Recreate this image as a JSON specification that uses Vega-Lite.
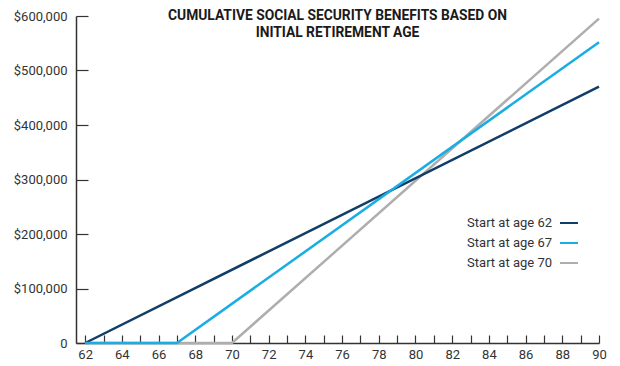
{
  "$schema": "https://vega.github.io/schema/vega-lite/v6.json",
  "width": 523,
  "height": 327,
  "autosize": {"type": "none"},
  "padding": {"left": 76, "top": 16, "right": 21, "bottom": 23},
  "background": "white",
  "config": {
    "view": {"stroke": null},
    "font": "Roboto",
    "axis": {"grid": false, "domainColor": "#333333", "domainWidth": 1.5, "tickColor": "#333333", "tickWidth": 1.2, "labelColor": "#333333", "labelFont": "Roboto", "labelFontSize": 13, "title": null}
  },
  "title": {
    "text": ["CUMULATIVE SOCIAL SECURITY BENEFITS BASED ON", "INITIAL RETIREMENT AGE"],
    "anchor": "middle",
    "frame": "group",
    "font": "Roboto",
    "fontSize": 13.8,
    "fontWeight": "bold",
    "color": "#1a1a1a",
    "lineHeight": 17,
    "baseline": "top",
    "offset": -30
  },
  "data": {
    "values": [
      {"age": 62, "benefit": 0, "series": "Start at age 70"},
      {"age": 70, "benefit": 0, "series": "Start at age 70"},
      {"age": 90, "benefit": 595200, "series": "Start at age 70"},
      {"age": 62, "benefit": 0, "series": "Start at age 62"},
      {"age": 90, "benefit": 470400, "series": "Start at age 62"},
      {"age": 62, "benefit": 0, "series": "Start at age 67"},
      {"age": 67, "benefit": 0, "series": "Start at age 67"},
      {"age": 90, "benefit": 552000, "series": "Start at age 67"}
    ]
  },
  "mark": {"type": "line", "strokeWidth": 2.5, "clip": false},
  "encoding": {
    "x": {
      "field": "age", "type": "quantitative",
      "scale": {"domain": [61.5, 90], "nice": false, "zero": false},
      "axis": {
        "values": [62,63,64,65,66,67,68,69,70,71,72,73,74,75,76,77,78,79,80,81,82,83,84,85,86,87,88,89,90],
        "labelExpr": "datum.value % 2 == 0 ? datum.label : ''",
        "tickSize": -8,
        "labelPadding": 13,
        "labelFlush": false,
        "labelOverlap": false
      }
    },
    "y": {
      "field": "benefit", "type": "quantitative",
      "scale": {"domain": [0, 600000], "nice": false},
      "axis": {
        "values": [0, 100000, 200000, 300000, 400000, 500000, 600000],
        "labelExpr": "datum.value == 0 ? '0' : '$' + format(datum.value, ',')",
        "tickSize": -12,
        "labelPadding": 21,
        "labelFlush": false,
        "labelOverlap": false
      }
    },
    "color": {
      "field": "series", "type": "nominal",
      "scale": {"domain": ["Start at age 62", "Start at age 67", "Start at age 70"], "range": ["#113e66", "#1aade3", "#aeaeae"]},
      "legend": {
        "title": null,
        "orient": "none",
        "legendX": 483,
        "legendY": 197,
        "symbolType": "stroke",
        "symbolSize": 324,
        "symbolStrokeWidth": 2,
        "labelAlign": "right",
        "labelOffset": -27,
        "labelFont": "Roboto",
        "labelFontSize": 13,
        "labelColor": "#333333",
        "rowPadding": 3
      }
    }
  }
}
